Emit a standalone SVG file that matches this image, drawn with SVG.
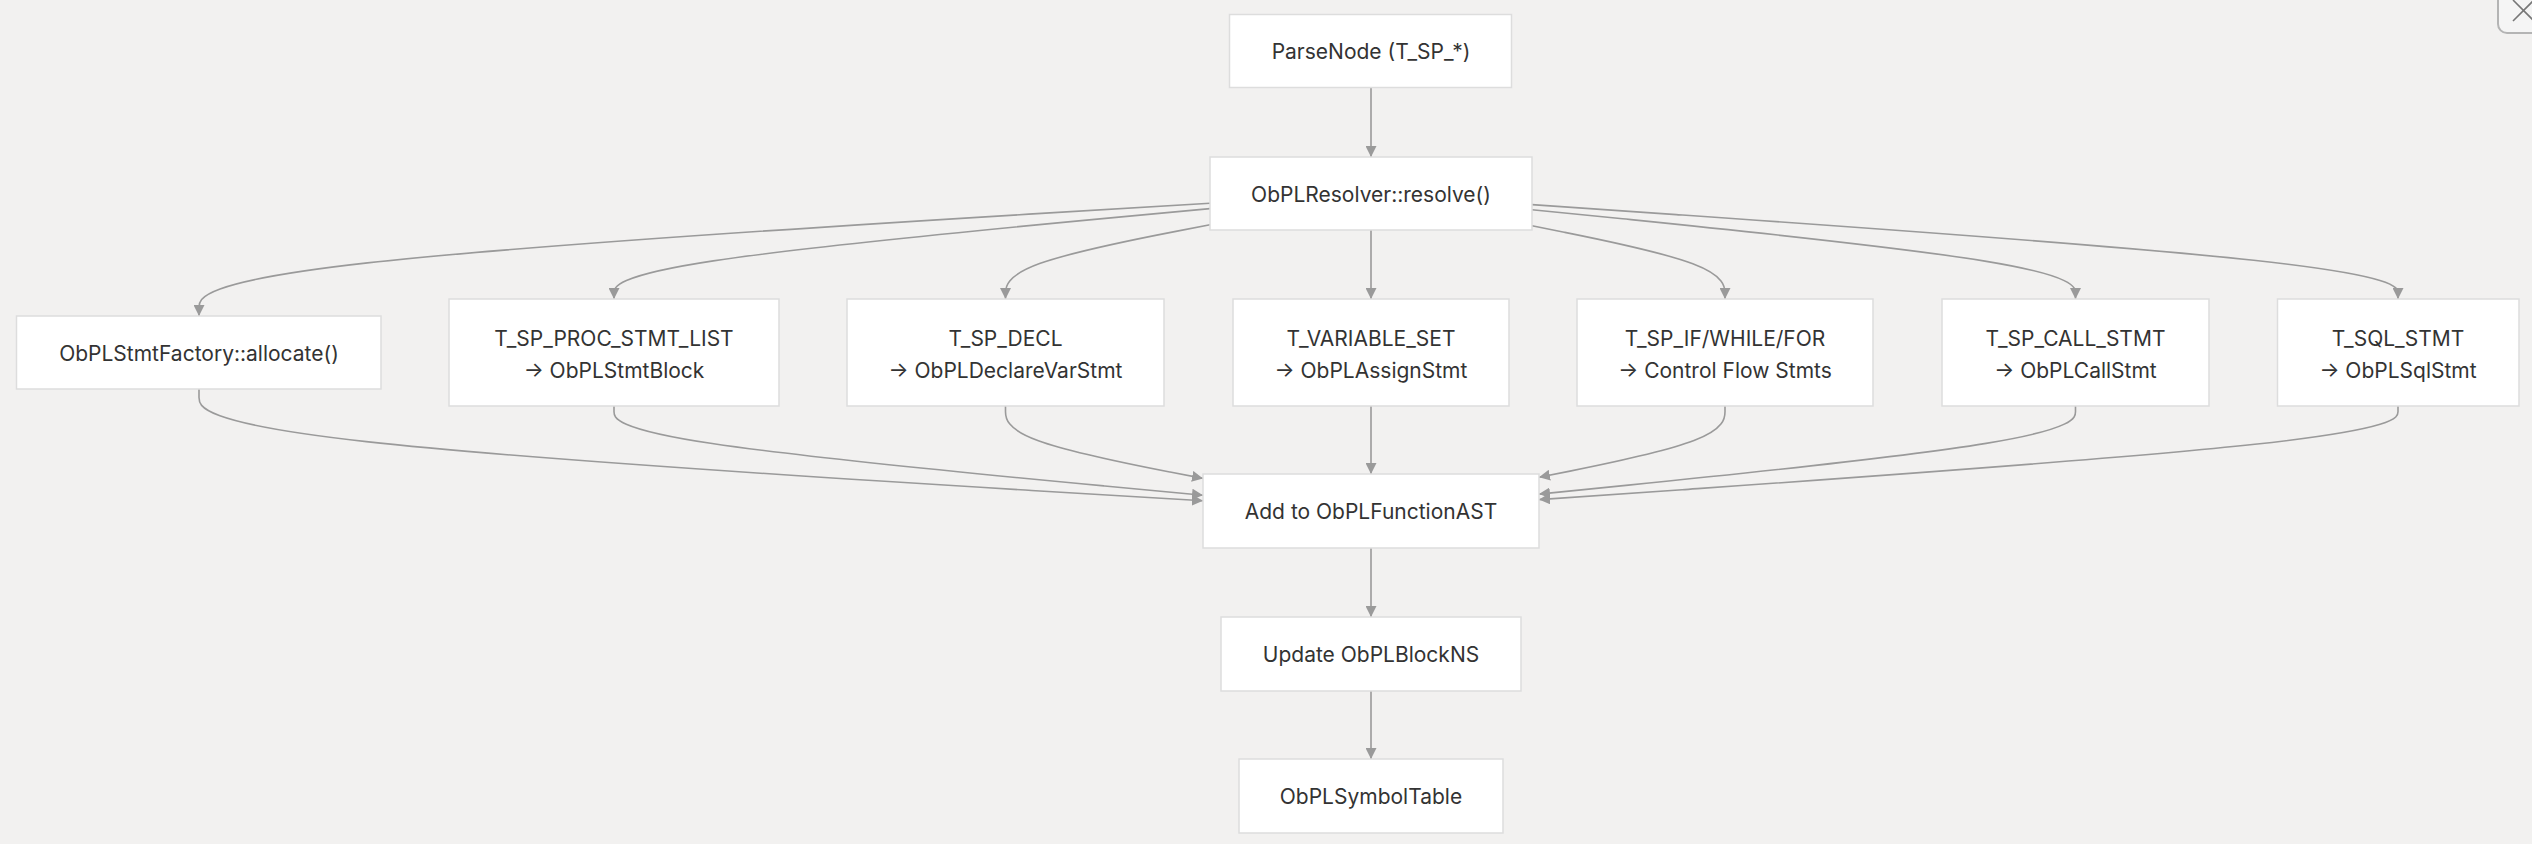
<svg xmlns="http://www.w3.org/2000/svg" width="2532" height="844" viewBox="0 0 2532 844">
<style>
.bg{fill:#f2f1f0}
.node rect{fill:#ffffff;stroke:#dddddd;stroke-width:1.5}
.node text{font-family:Inter,"Noto Sans","Liberation Sans",sans-serif;font-size:21px;fill:#333333;text-anchor:middle}
.edge{fill:none;stroke:#9a9a9a;stroke-width:1.6}
</style>
<defs>
<marker id="arr" viewBox="0 0 10 10" refX="10" refY="5" markerUnits="userSpaceOnUse" markerWidth="11" markerHeight="11" orient="auto">
<path d="M0,0 L10,5 L0,10 z" fill="#9a9a9a"/>
</marker>
</defs>
<rect class="bg" x="0" y="0" width="2532" height="844"/>
<g id="close-button">
<rect x="2498" y="-20" width="60" height="53" rx="9" fill="#f5f5f5" stroke="#b4b4b4" stroke-width="2"/>
<path d="M2513,0 L2533,20 M2513,21 L2533,1" stroke="#777777" stroke-width="1.6" fill="none"/>
</g>
<g id="connectors">
<path class="edge" marker-end="url(#arr)" d="M1371,88 L1371,157"/>
<path class="edge" marker-end="url(#arr)" d="M1210,203.2 L1041.5,213.4 C873,223.6 536,244.1 367.5,262.9 C199,281.7 199,298.8 199,307.4 L199,316"/>
<path class="edge" marker-end="url(#arr)" d="M1210,208.6 L1110.7,217.9 C1011.3,227.2 812.7,245.9 713.3,260.9 C614,276 614,287.5 614,293.25 L614,299"/>
<path class="edge" marker-end="url(#arr)" d="M1210,224.8 L1175.9,231.4 C1141.8,238 1073.7,251.3 1039.6,263.6 C1005.5,276 1005.5,287.5 1005.5,293.25 L1005.5,299"/>
<path class="edge" marker-end="url(#arr)" d="M1371,230 L1371,299"/>
<path class="edge" marker-end="url(#arr)" d="M1532,225.8 L1564.2,232.25 C1596.3,238.7 1660.7,251.6 1692.8,263.8 C1725,276 1725,287.5 1725,293.25 L1725,299"/>
<path class="edge" marker-end="url(#arr)" d="M1532,209.7 L1622.6,218.8 C1713.2,228 1894.3,246.2 1984.9,261.1 C2075.5,276 2075.5,287.5 2075.5,293.25 L2075.5,299"/>
<path class="edge" marker-end="url(#arr)" d="M1532,204.6 L1676.3,214.6 C1820.7,224.6 2109.3,244.5 2253.7,260.3 C2398,276 2398,287.5 2398,293.25 L2398,299"/>
<path class="edge" marker-end="url(#arr)" d="M199,389 L199,397.5 C199,406 199,423 366.3,441.6 C533.7,460.3 868.3,480.5 1035.7,490.7 L1203,500.8"/>
<path class="edge" marker-end="url(#arr)" d="M614,406 L614,411.7 C614,417.3 614,428.7 712.2,443.5 C810.3,458.4 1006.7,476.8 1104.8,486 L1203,495.2"/>
<path class="edge" marker-end="url(#arr)" d="M1005.5,406 L1005.5,411.7 C1005.5,417.3 1005.5,428.7 1038.4,440.7 C1071.3,452.8 1137.2,465.6 1170.1,472 L1203,478.4"/>
<path class="edge" marker-end="url(#arr)" d="M1371,406 L1371,474"/>
<path class="edge" marker-end="url(#arr)" d="M1725,406 L1725,411.7 C1725,417.3 1725,428.7 1694,440.55 C1663,452.4 1601,464.9 1570,471.1 L1539,477.3"/>
<path class="edge" marker-end="url(#arr)" d="M2075.5,406 L2075.5,411.7 C2075.5,417.3 2075.5,428.7 1986.1,443.35 C1896.7,458 1717.8,476.1 1628.4,485.1 L1539,494.1"/>
<path class="edge" marker-end="url(#arr)" d="M2398,406 L2398,411.7 C2398,417.3 2398,428.7 2254.8,444.3 C2111.7,459.9 1825.3,479.7 1682.2,489.7 L1539,499.6"/>
<path class="edge" marker-end="url(#arr)" d="M1371,548 L1371,617"/>
<path class="edge" marker-end="url(#arr)" d="M1371,691 L1371,759"/>
</g>
<g id="parse-node" class="node">
<rect x="1229.5" y="14.5" width="282" height="73"/>
<text x="1371" y="59">ParseNode (T_SP_*)</text>
</g>
<g id="resolver" class="node">
<rect x="1210" y="157" width="322" height="73"/>
<text x="1371" y="202">ObPLResolver::resolve()</text>
</g>
<g id="stmt-factory" class="node">
<rect x="16.5" y="316" width="364.5" height="73"/>
<text x="199" y="361">ObPLStmtFactory::allocate()</text>
</g>
<g id="proc-stmt-list" class="node">
<rect x="449" y="299" width="330" height="107"/>
<text x="614" y="346">T_SP_PROC_STMT_LIST</text>
<text x="614" y="378">→ ObPLStmtBlock</text>
</g>
<g id="sp-decl" class="node">
<rect x="847" y="299" width="317" height="107"/>
<text x="1005.5" y="346">T_SP_DECL</text>
<text x="1005.5" y="378">→ ObPLDeclareVarStmt</text>
</g>
<g id="variable-set" class="node">
<rect x="1233" y="299" width="276" height="107"/>
<text x="1371" y="346">T_VARIABLE_SET</text>
<text x="1371" y="378">→ ObPLAssignStmt</text>
</g>
<g id="control-flow" class="node">
<rect x="1577" y="299" width="296" height="107"/>
<text x="1725" y="346">T_SP_IF/WHILE/FOR</text>
<text x="1725" y="378">→ Control Flow Stmts</text>
</g>
<g id="call-stmt" class="node">
<rect x="1942" y="299" width="267" height="107"/>
<text x="2075.5" y="346">T_SP_CALL_STMT</text>
<text x="2075.5" y="378">→ ObPLCallStmt</text>
</g>
<g id="sql-stmt" class="node">
<rect x="2277.5" y="299" width="241.5" height="107"/>
<text x="2398" y="346">T_SQL_STMT</text>
<text x="2398" y="378">→ ObPLSqlStmt</text>
</g>
<g id="function-ast" class="node">
<rect x="1203" y="474" width="336" height="74"/>
<text x="1371" y="519">Add to ObPLFunctionAST</text>
</g>
<g id="block-ns" class="node">
<rect x="1221" y="617" width="300" height="74"/>
<text x="1371" y="662">Update ObPLBlockNS</text>
</g>
<g id="symbol-table" class="node">
<rect x="1239" y="759" width="264" height="74"/>
<text x="1371" y="804">ObPLSymbolTable</text>
</g>
</svg>
